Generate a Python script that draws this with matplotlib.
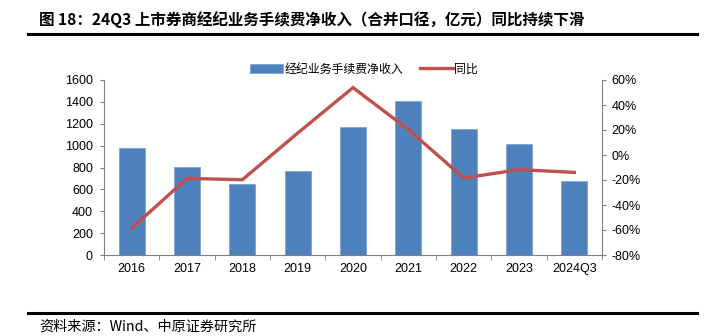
import matplotlib
matplotlib.use("Agg")
import matplotlib.pyplot as plt
from matplotlib.ticker import FuncFormatter, FixedLocator
import numpy as np

plt.rcParams['font.family'] = ['Liberation Sans', 'Noto Sans CJK SC', 'DejaVu Sans']

categories = ['2016', '2017', '2018', '2019', '2020', '2021', '2022', '2023', '2024Q3']
income = [981, 802, 646, 768, 1173, 1408, 1149, 1018, 674]
yoy = [-58.6, -18.7, -19.8, 17.5, 53.9, 20.4, -18.4, -11.7, -13.9]

title = '图 18：24Q3 上市券商经纪业务手续费净收入（合并口径，亿元）同比持续下滑'
source = '资料来源：Wind、中原证券研究所'
bar_label = '经纪业务手续费净收入'
line_label = '同比'

BLUE = '#4F81BD'
RED = '#C0504D'

fig = plt.figure(figsize=(7.08, 3.36), dpi=100)
L, R, T, B = 104, 602, 80, 255
ax = fig.add_axes([L/708, 1-B/336, (R-L)/708, (B-T)/336])
x = np.arange(len(categories))
bars = ax.bar(x, income, width=0.47, color=BLUE, edgecolor='#7FA3D3', linewidth=0.6, label=bar_label, zorder=2)
ax.set_xlim(-0.5, len(categories) - 0.5)
ax.set_ylim(0, 1600)
ax.set_yticks(np.arange(0, 1601, 200))
ax.set_xticks(x)
ax.set_xticklabels(categories)
ax.xaxis.set_minor_locator(FixedLocator(np.arange(-0.5, len(categories), 1.0)))
ax.tick_params(axis='x', which='major', length=0, pad=6, labelsize=9)
ax.tick_params(axis='x', which='minor', length=3.5, direction='out', color='#808080')
ax.tick_params(axis='y', length=3, direction='out', labelsize=9, color='#808080', pad=5)
for s in ['top', 'right']:
    ax.spines[s].set_visible(False)
for s in ['left', 'bottom']:
    ax.spines[s].set_color('#808080')
    ax.spines[s].set_linewidth(0.8)

ax2 = ax.twinx()
ln, = ax2.plot(x, yoy, color=RED, linewidth=2.4, label=line_label, zorder=3, solid_joinstyle='miter')
ax2.set_ylim(-80, 60)
ax2.set_yticks(np.arange(-80, 61, 20))
ax2.yaxis.set_major_formatter(FuncFormatter(lambda v, p: f'{int(v)}%'))
ax2.tick_params(axis='y', length=3, direction='out', labelsize=9, color='#808080', pad=4)
for s in ['top', 'left', 'bottom']:
    ax2.spines[s].set_visible(False)
ax2.spines['right'].set_color('#808080')
ax2.spines['right'].set_linewidth(0.8)

fig.legend(handles=[bars, ln], labels=[bar_label, line_label], loc='center', bbox_to_anchor=(364/708, 1-69/336),
           ncol=2, frameon=False, handlelength=2.75, handleheight=0.75, columnspacing=1.4,
           handletextpad=0.1, borderpad=0.2, prop={'family': ['Noto Sans CJK SC'], 'size': 8.6})

fig.text(39/708, 1-20/336, title, fontsize=11.2, fontweight='bold', ha='left', va='center',
         family=['Noto Sans CJK SC', 'DejaVu Sans'])
fig.add_artist(plt.Line2D([28/708, 697/708], [1-34/336, 1-34/336], color='black', linewidth=2.2))
fig.add_artist(plt.Line2D([28/708, 697/708], [1-313/336, 1-313/336], color='black', linewidth=2.2))
fig.text(39/708, 1-327/336, source, fontsize=10.2, ha='left', va='center',
         family=['Noto Sans CJK SC', 'DejaVu Sans'])

fig.savefig('out.png', dpi=100)
